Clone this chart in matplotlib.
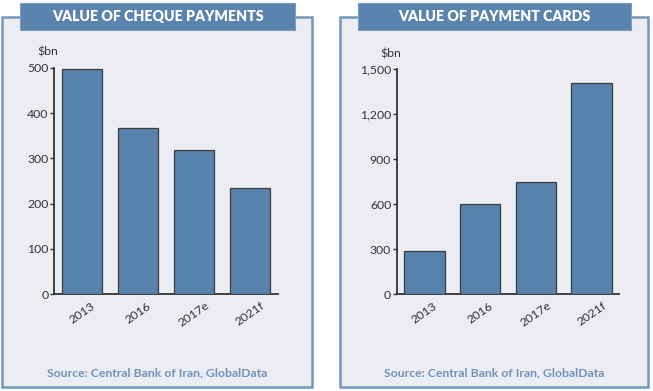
import matplotlib
matplotlib.use("Agg")
import matplotlib.pyplot as plt
from matplotlib.patches import Rectangle
from matplotlib.ticker import FuncFormatter

W, H = 653, 391

years = ["2013", "2016", "2017e", "2021f"]
cheque_values = [498, 368, 318, 234]
card_values = [290, 600, 750, 1410]

cheque_ticks = [0, 100, 200, 300, 400, 500]
card_ticks = [0, 300, 600, 900, 1200, 1500]

titles = ["VALUE OF CHEQUE PAYMENTS", "VALUE OF PAYMENT CARDS"]
source = "Source: Central Bank of Iran, GlobalData"

bar_col = "#5782ac"
panel_edge = "#7397bd"
panel_face = "#ecedf3"
title_face = "#5a83ad"
src_col = "#6f94bb"
txt_col = "#333333"

plt.rcParams['font.family'] = ['Lato', 'DejaVu Sans']

fig = plt.figure(figsize=(W / 100, H / 100), dpi=100)


def px(x0, y0, x1, y1):
    # pixel box (top-left origin) -> figure fraction rect
    return (x0 / W, 1 - y1 / H, (x1 - x0) / W, (y1 - y0) / H)


def panel(x0, x1, title):
    l, b, w, h = px(x0, 17, x1, 387)
    fig.patches.append(Rectangle((l, b), w, h, transform=fig.transFigure,
                                 facecolor=panel_face, edgecolor=panel_edge,
                                 linewidth=1.8, zorder=-2))
    tx0, tx1 = x0 + 18, x1 - 17
    l, b, w, h = px(tx0, 3, tx1, 30)
    fig.patches.append(Rectangle((l, b), w, h, transform=fig.transFigure,
                                 facecolor=title_face, edgecolor="#7b9dc2",
                                 linewidth=0.8, zorder=-1))
    fig.text((tx0 + tx1) / 2 / W, 1 - 16.5 / H, title, ha="center", va="center",
             color="white", fontsize=10.2, fontweight="heavy", zorder=2)
    fig.text((x0 + x1) / 2 / W, 1 - 373 / H, source, ha="center", va="center",
             color=src_col, fontsize=8.8, fontweight="bold")


panel(2, 312, titles[0])
panel(340, 648, titles[1])


def bars(rect, values, ticks, fmt):
    ax = fig.add_axes(rect)
    ax.set_facecolor("none")
    ax.bar(range(len(years)), values, width=0.72, color=bar_col,
           edgecolor="#3c3c3c", linewidth=0.9, zorder=3)
    ax.set_xlim(-0.5, 3.5)
    ax.set_ylim(ticks[0], ticks[-1])
    ax.set_yticks(ticks)
    ax.yaxis.set_major_formatter(FuncFormatter(fmt))
    ax.set_xticks(range(len(years)))
    ax.set_xticklabels(years, rotation=35, ha="center")
    for s in ["top", "right"]:
        ax.spines[s].set_visible(False)
    for s in ["left", "bottom"]:
        ax.spines[s].set_color("#333333")
        ax.spines[s].set_linewidth(1.3)
    ax.tick_params(axis="y", length=3, width=1, color="#333333",
                   labelsize=8.8, labelcolor=txt_col, pad=1)
    ax.tick_params(axis="x", length=0, labelsize=8.8, labelcolor=txt_col, pad=4)
    ax.text(0.02, 1.045, "$bn", transform=ax.transAxes, ha="right", va="bottom",
            fontsize=8.8, color=txt_col)
    return ax


bars(px(54, 67.7, 278, 294.3), cheque_values, cheque_ticks,
     lambda v, p: f"{int(v)}")
bars(px(396.7, 69.3, 619.3, 294.3), card_values, card_ticks,
     lambda v, p: f"{int(v):,}")

fig.savefig("out.png", dpi=100)
